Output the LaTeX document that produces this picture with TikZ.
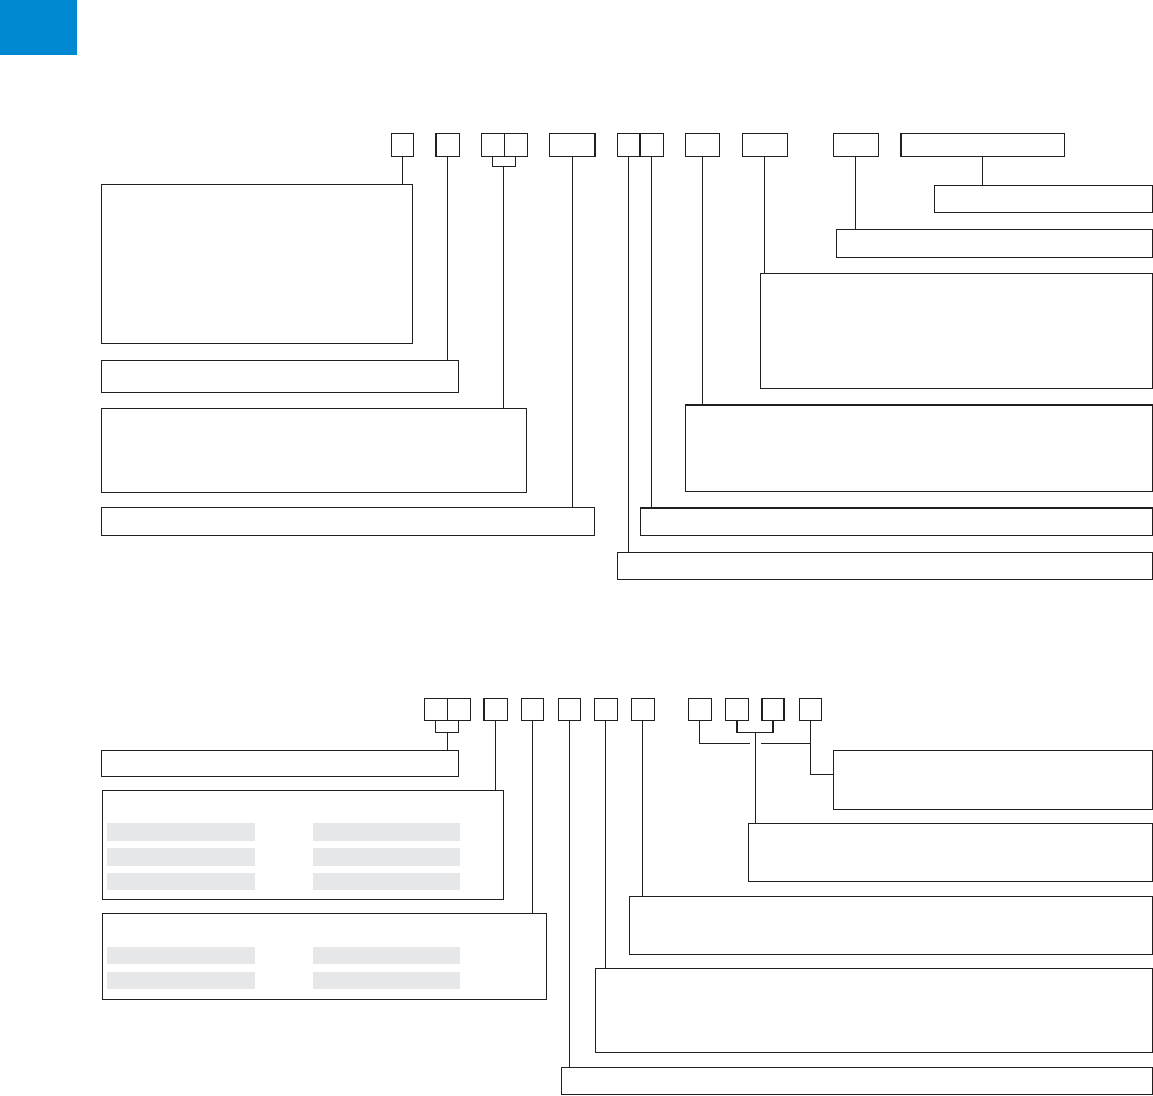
\documentclass[tikz,border=0pt]{standalone}
\usepackage{tikz}
\definecolor{ink}{HTML}{231F20}
\definecolor{barfill}{HTML}{E6E7E8}
\definecolor{tabblue}{HTML}{0088D1}
\tikzset{
  box/.style={draw=ink, line width=1.2pt, inner sep=0pt, outer sep=0pt, anchor=north west, fill=white},
  conn/.style={draw=ink, line width=1.1pt},
  bar/.style={fill=barfill}
}
% \bx{name}{x1}{y1}{x2}{y2}
\newcommand{\bx}[5]{\node[box, minimum width={(#4-#2)*1pt}, minimum height={(#5-#3)*1pt}] (#1) at (#2,#3) {};}
\begin{document}
\begin{tikzpicture}[x=1pt,y=-1pt]
\useasboundingbox (0,0) rectangle (1153,1095);
\fill[tabblue] (0,0) rectangle (77,54.7);

% ---------- upper code boxes ----------
\bx{a1}{391.3}{133.3}{413.3}{156.3}
\bx{a2}{436}{133.3}{459.3}{156.3}
\bx{a3l}{481.3}{133.3}{504.3}{156.3}
\bx{a3r}{504.3}{133.3}{527.3}{156.3}
\bx{a4}{549.3}{133.3}{595}{156.3}
\bx{a5l}{617.3}{133.3}{640}{156.3}
\bx{a5r}{640}{133.3}{663.3}{156.3}
\bx{a6}{685.3}{133.3}{719.7}{156.3}
\bx{a7}{742.3}{133.3}{787.3}{156.3}
\bx{a8}{833.3}{133.3}{878.3}{156.3}
\bx{a9}{901}{133.3}{1064.7}{156.3}

% ---------- upper description boxes ----------
\bx{L1}{101.3}{184.3}{412.7}{343.3}
\bx{L2}{101.3}{360.3}{458.7}{392.3}
\bx{L3}{101.3}{408.3}{526.7}{492.3}
\bx{L4}{101.3}{507.6}{594.7}{535.3}
\bx{R1}{934.3}{185.3}{1152.5}{212.3}
\bx{R2}{836.3}{229.3}{1152.5}{257.3}
\bx{R3}{760.3}{273.3}{1152.5}{388.3}
\bx{R4}{685.5}{405}{1152.5}{491.3}
\bx{R5}{640.3}{508}{1152.5}{535.3}
\bx{R6}{617.3}{552.3}{1152.5}{579.7}

% ---------- upper connectors ----------
\draw[conn] (a1.south) -- (a1.south |- L1.north);
\draw[conn] (a2.south) -- (a2.south |- L2.north);
\coordinate (br3) at (503.5,166.3);
\draw[conn] (a3l.south) |- (br3) -| (a3r.south);
\draw[conn] (br3) -- (br3 |- L3.north);
\draw[conn] (a4.south) -- (a4.south |- L4.north);
\draw[conn] (a5l.south) -- (a5l.south |- R6.north);
\draw[conn] (a5r.south) -- (a5r.south |- R5.north);
\draw[conn] (a6.south) -- (a6.south |- R4.north);
\draw[conn] (a7.south) -- (a7.south |- R3.north);
\draw[conn] (a8.south) -- (a8.south |- R2.north);
\draw[conn] (a9.south) -- (a9.south |- R1.north);

% ---------- lower code boxes ----------
\bx{b1l}{424.3}{698.3}{447.3}{720.3}
\bx{b1r}{447.3}{698.3}{470.3}{720.3}
\bx{b2}{484}{698.3}{507.3}{720.3}
\bx{b3}{521.3}{698.3}{543.7}{720.3}
\bx{b4}{558.3}{698.3}{580.7}{720.3}
\bx{b5}{594.3}{698.3}{617.3}{720.3}
\bx{b6}{631.3}{698.3}{654.3}{720.3}
\bx{b7}{688.3}{698.3}{711.3}{720.3}
\bx{b8}{725.3}{698.3}{748.7}{720.3}
\bx{b9}{762}{698.3}{784}{720.3}
\bx{b10}{799.3}{698.3}{821.3}{720.3}

% ---------- lower description boxes ----------
\bx{M1}{101.3}{750.3}{458.7}{776.5}
\bx{M2}{102.3}{790.3}{503.7}{899.3}
\bx{M3}{102.3}{913.3}{546.7}{999.3}
\bx{N1}{833.2}{750.3}{1152.5}{809.3}
\bx{N2}{748.4}{823.3}{1152.5}{881.3}
\bx{N3}{629.5}{896.3}{1152.5}{954.3}
\bx{N4}{595.5}{968.3}{1152.5}{1052.3}
\bx{N5}{561.5}{1067.3}{1152.5}{1094.3}

% grey bars
\foreach \ya/\yb in {823/841, 848/866, 873/890, 947/964, 972/989}{
  \fill[bar] (107,\ya) rectangle (255,\yb);
  \fill[bar] (313,\ya) rectangle (460,\yb);
}

% ---------- lower connectors ----------
\coordinate (br1) at (447.3,732.3);
\draw[conn] (b1l.south) |- (br1) -| (b1r.south);
\draw[conn] (br1) -- (br1 |- M1.north);
\draw[conn] (b2.south) -- (b2.south |- M2.north);
\draw[conn] (b3.south) -- (b3.south |- M3.north);
\draw[conn] (b4.south) -- (b4.south |- N5.north);
\draw[conn] (b5.south) -- (b5.south |- N4.north);
\draw[conn] (b6.south) -- (b6.south |- N3.north);
\coordinate (br8) at (755.5,732.3);
\draw[conn] (b8.south) |- (br8) -| (b9.south);
\draw[conn] (br8) -- (br8 |- N2.north);
\coordinate (gapL) at (750,743.3);
\coordinate (gapR) at (761.3,743.3);
\coordinate (n1in) at (833.2,774.3);
\draw[conn] (b7.south) |- (gapL);
\draw[conn] (gapR) -| (b10.south);
\draw[conn] (b10.south) |- (n1in);
\end{tikzpicture}
\end{document}
